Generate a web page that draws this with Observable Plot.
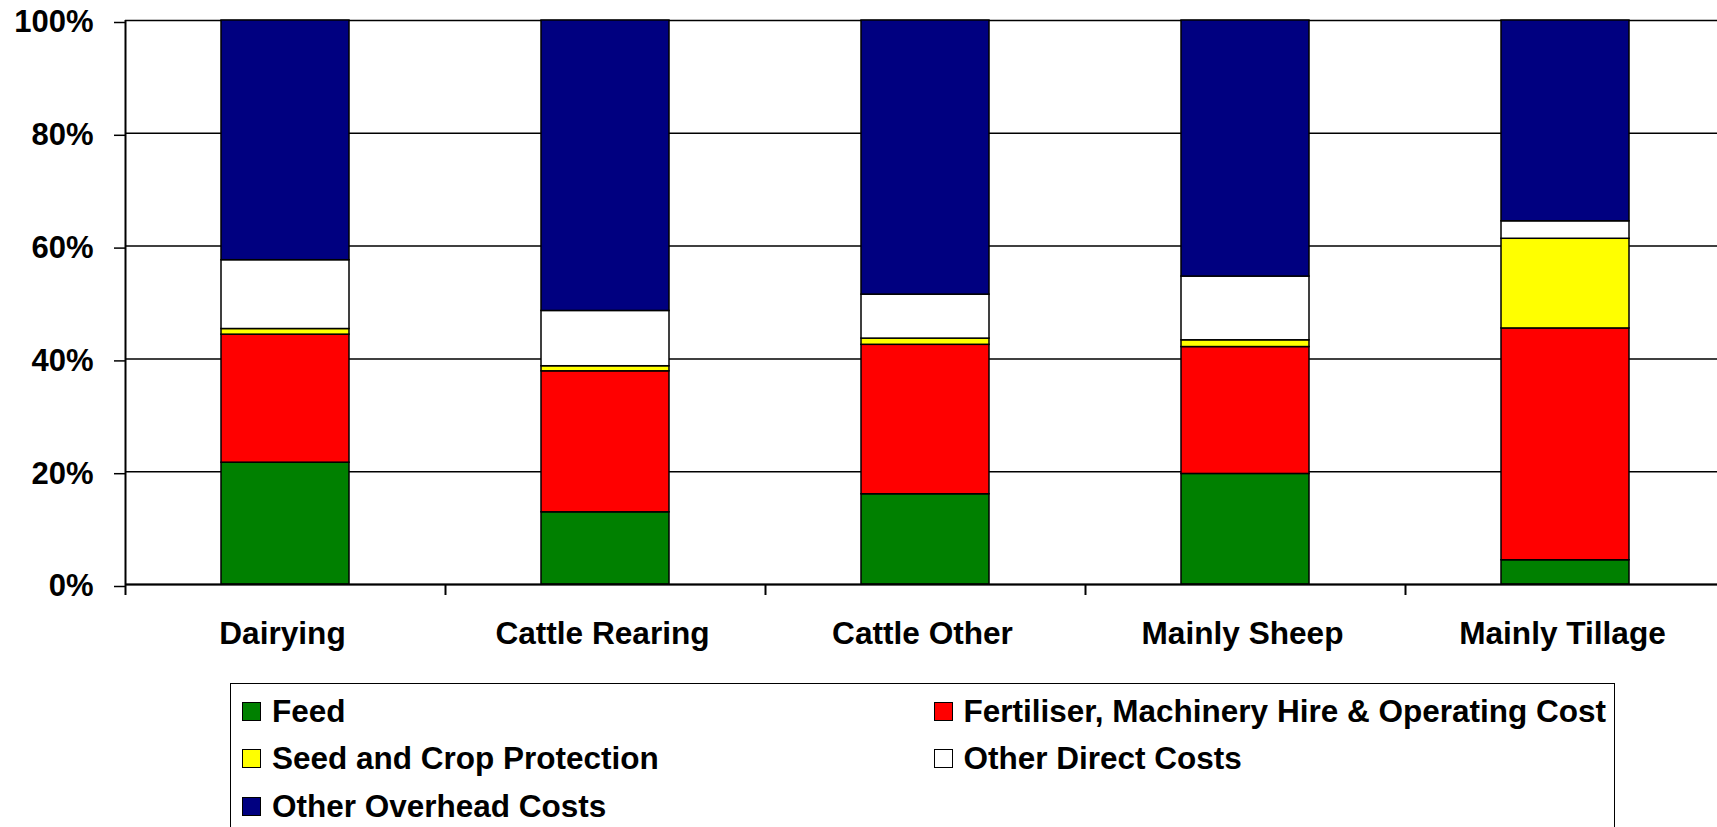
<!DOCTYPE html>
<html>
<head>
<meta charset="utf-8">
<script src="https://cdn.jsdelivr.net/npm/d3@7"></script>
<script src="https://cdn.jsdelivr.net/npm/@observablehq/plot@0.6"></script>
<style>
  html, body { margin: 0; padding: 0; background: #fff; overflow: hidden; width: 1717px; height: 827px; }
  #chart svg { display: block; }
  #legend {
    position: absolute; left: 230px; top: 683px; width: 1385px; height: 170px;
    border: 1.6px solid #000; box-sizing: border-box; background: #fff;
    font-family: "Liberation Sans", Arial, sans-serif; font-weight: bold; font-size: 31.5px; color: #000;
  }
  .item { position: absolute; height: 31px; line-height: 31px; white-space: nowrap; }
  .sw { position: absolute; left: 0; top: 6px; width: 19px; height: 19px; box-sizing: border-box; border: 1.6px solid #000; }
  .lbl { position: absolute; left: 30px; top: 0; }
</style>
</head>
<body>
<div id="chart"></div>
<div id="legend"></div>
<script>
const categories = ["Dairying", "Cattle Rearing", "Cattle Other", "Mainly Sheep", "Mainly Tillage"];
const seriesNames = ["Feed", "Fertiliser, Machinery Hire & Operating Cost", "Seed and Crop Protection", "Other Direct Costs", "Other Overhead Costs"];
const seriesColors = ["#008000", "#ff0000", "#ffff00", "#ffffff", "#000080"];
const feed        = [21.6, 12.8, 16.0, 19.6, 4.3];
const fertiliser  = [22.7, 25.0, 26.5, 22.5, 41.1];
const seed        = [1.0, 0.9, 1.1, 1.2, 15.9];
const otherDirect = [12.2, 9.8, 7.8, 11.3, 3.1];
const overhead    = [42.5, 51.5, 48.6, 45.4, 35.6];
const yTicks = [0, 20, 40, 60, 80, 100];
const yTickLabels = ["0%", "20%", "40%", "60%", "80%", "100%"];

const seriesValues = [feed, fertiliser, seed, otherDirect, overhead];
const data = [];
categories.forEach((c, i) => {
  seriesNames.forEach((s, j) => data.push({category: c, series: s, value: seriesValues[j][i]}));
});

const W = 1717, H = 670;
const plot = Plot.plot({
  width: W,
  height: H,
  marginTop: 20,
  marginBottom: 86,
  marginLeft: 125,
  marginRight: 0,
  style: {fontFamily: "'Liberation Sans', Arial, sans-serif", fontSize: "31px", fontWeight: "bold", color: "#000", background: "#fff", overflow: "visible"},
  x: {domain: categories, range: [124.7, 1724.7], paddingInner: 0.6, paddingOuter: 0.3, label: null},
  y: {domain: [0, 100], label: null},
  color: {domain: seriesNames, range: seriesColors},
  marks: [
    Plot.ruleY(yTicks, {y: d => d, stroke: "#000", strokeWidth: 1.5}),
    Plot.barY(data, Plot.stackY({
      x: "category", y: "value", fill: "series", z: "series", order: seriesNames,
      stroke: "#000", strokeWidth: 1.5
    })),
    Plot.ruleY([0], {stroke: "#000", strokeWidth: 2}),
    Plot.ruleX(categories.slice(0, 1), {x: d => d, dx: -160, y1: 100, y2: 0, insetBottom: -11, stroke: "#000", strokeWidth: 2}),
    Plot.ruleX(categories.slice(1), {x: d => d, dx: -160, y1: 0, y2: 0, insetBottom: -11, stroke: "#000", strokeWidth: 2}),
    Plot.axisY({ticks: yTicks, tickFormat: (d) => yTickLabels[yTicks.indexOf(d)], tickSize: 11, tickPadding: 21, dy: 2, stroke: "#000", strokeWidth: 1.5, fill: "#000"}),
    Plot.axisX({tickSize: 0, tickPadding: 37, dx: -3, fontSize: 31.6, fill: "#000"})
  ]
});
document.getElementById("chart").appendChild(plot);

const legend = document.getElementById("legend");
const colLeft = [11, 702.5];
const rowTop = [11.5, 59, 106.5];
seriesNames.forEach((s, j) => {
  const item = document.createElement("div");
  item.className = "item";
  item.style.left = colLeft[j % 2] + "px";
  item.style.top = rowTop[Math.floor(j / 2)] + "px";
  const sw = document.createElement("div");
  sw.className = "sw";
  sw.style.background = seriesColors[j];
  const lbl = document.createElement("span");
  lbl.className = "lbl";
  lbl.textContent = s;
  item.appendChild(sw);
  item.appendChild(lbl);
  legend.appendChild(item);
});
</script>
</body>
</html>
